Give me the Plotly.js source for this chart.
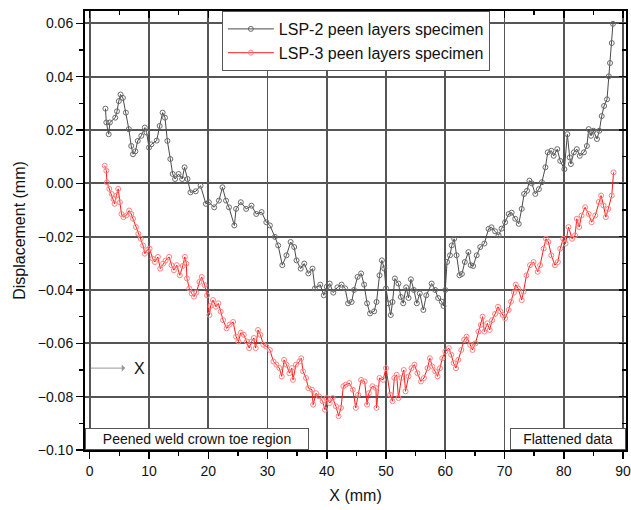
<!DOCTYPE html>
<html>
<head>
<meta charset="utf-8">
<script src="https://cdn.plot.ly/plotly-3.0.1.min.js"></script>
<style>html,body{margin:0;padding:0;background:#fff;}#chart{width:631px;height:510px;}</style>
</head>
<body>
<div id="chart"></div>
<script>
// LSP-2 peen layers specimen
const lsp2X = [2.65,2.8,3.2,3.4,4.3,4.6,4.9,5.2,5.6,6.1,6.6,7.0,7.3,7.7,8.1,8.7,9.3,9.6,10.0,10.4,11.3,11.8,12.3,12.7,13.1,13.6,14.0,14.4,15.0,15.6,16.0,16.5,17.0,17.9,18.7,19.6,20.1,21.0,21.8,22.4,23.0,23.5,24.4,24.7,25.5,26.4,27.3,28.1,29.0,29.8,30.4,31.25,31.8,32.5,33.2,33.9,34.5,34.9,35.6,36.2,36.9,37.6,38.0,38.9,39.5,40.0,40.5,41.1,41.8,42.5,43.1,43.6,44.2,44.6,45.2,45.8,46.3,46.8,47.3,48.0,48.4,48.9,49.3,49.7,50.0,50.4,50.8,51.1,51.5,52.1,52.5,52.9,53.4,53.8,54.2,54.7,55.2,55.7,56.3,56.8,57.7,58.3,58.8,59.4,59.7,60.0,60.3,60.8,61.1,61.5,61.9,62.4,62.8,63.3,63.9,64.3,64.7,65.3,65.9,66.6,67.3,67.8,68.4,69.0,69.5,70.1,70.7,71.2,71.8,72.4,72.9,73.3,73.8,74.2,74.6,75.2,75.8,76.3,76.9,77.3,77.9,78.3,78.9,79.4,80.1,80.6,81.0,81.2,81.7,82.2,82.7,83.4,83.9,84.2,84.6,85.0,85.6,86.0,86.4,86.8,87.3,87.6,87.8,88.1,88.3];
const lsp2Y = [0.028,0.0228,0.0184,0.0228,0.0246,0.027,0.0308,0.0333,0.032,0.0265,0.0203,0.014,0.0109,0.012,0.0159,0.0178,0.0209,0.019,0.0134,0.0146,0.016,0.0215,0.0265,0.0246,0.0159,0.0091,0.0035,0.0016,0.0035,0.0016,0.006,0.0016,-0.0034,-0.003,-0.0009,-0.0077,-0.0071,-0.009,-0.0065,-0.0015,-0.0065,-0.009,-0.0158,-0.0096,-0.0071,-0.0096,-0.0084,-0.0115,-0.0108,-0.0146,-0.0158,-0.0201,-0.0233,-0.0307,-0.027,-0.022,-0.0239,-0.0289,-0.032,-0.0301,-0.0338,-0.032,-0.0394,-0.038,-0.042,-0.0388,-0.0376,-0.041,-0.039,-0.038,-0.0394,-0.045,-0.0445,-0.040,-0.0351,-0.0338,-0.038,-0.045,-0.0488,-0.048,-0.0445,-0.0345,-0.0289,-0.032,-0.0394,-0.045,-0.0494,-0.0445,-0.0357,-0.0376,-0.0426,-0.045,-0.039,-0.043,-0.036,-0.040,-0.045,-0.0413,-0.0475,-0.042,-0.0376,-0.040,-0.043,-0.0444,-0.046,-0.040,-0.0295,-0.027,-0.0233,-0.0208,-0.027,-0.0345,-0.034,-0.0295,-0.0258,-0.0307,-0.031,-0.027,-0.0239,-0.0226,-0.0171,-0.0165,-0.018,-0.0195,-0.017,-0.0146,-0.0115,-0.011,-0.0133,-0.0152,-0.0096,-0.004,-0.0028,0.001,0.0,-0.004,-0.0022,0.0004,0.006,0.0116,0.0122,0.0103,0.0128,0.0084,0.0053,0.0184,0.0097,0.0072,0.0116,0.0128,0.0103,0.0116,0.014,0.0203,0.0178,0.0197,0.0166,0.0197,0.0252,0.029,0.0315,0.0401,0.0451,0.0526,0.0598];

// LSP-3 peen layers specimen
const lsp3X = [2.53,2.8,2.9,3.3,3.7,4.0,4.2,4.5,4.8,5.1,5.35,5.7,6.2,6.65,7.0,7.3,7.8,8.2,8.6,9.0,9.3,9.7,10.1,10.6,11.0,11.5,11.9,12.4,12.8,13.4,13.8,14.2,14.7,15.2,15.7,16.05,16.3,16.4,16.8,17.2,17.6,18.0,18.5,18.9,19.4,19.8,20.2,20.4,20.8,21.3,21.7,22.1,22.5,23.1,23.6,24.2,24.7,25.1,25.5,26.0,26.5,26.9,27.3,27.7,28.0,28.4,28.8,29.3,29.8,30.4,31.0,31.5,32.0,32.4,32.8,33.2,33.7,34.1,34.3,34.8,35.4,35.7,36.0,36.5,36.9,37.5,37.7,38.2,38.7,39.3,39.7,40.0,40.5,41.0,41.55,42.0,42.4,42.8,43.2,43.8,44.4,44.9,45.3,45.8,46.4,46.8,47.1,47.7,48.3,48.4,48.9,49.5,50.0,50.7,51.1,51.4,51.8,52.1,52.6,53.0,53.3,53.8,54.3,54.8,55.3,55.9,56.4,57.0,57.4,57.8,58.3,58.7,59.1,59.5,60.0,60.6,61.0,61.4,61.8,62.2,62.7,63.2,63.6,64.2,64.6,65.1,65.6,66.0,66.3,66.6,67.1,67.5,67.9,68.4,68.9,69.3,69.7,70.1,70.7,71.1,71.6,71.9,72.3,72.9,73.2,73.7,74.3,74.9,75.6,76.0,76.6,77.0,77.4,77.9,78.5,79.0,79.4,79.9,80.3,80.8,81.4,81.9,82.2,82.6,83.0,83.6,84.2,84.7,85.3,85.9,86.3,86.7,87.1,87.5,88.1,88.4];
const lsp3Y = [0.0066,0.0047,0.0004,-0.0021,-0.004,-0.0059,-0.0077,-0.0046,-0.0021,-0.0071,-0.0115,-0.0127,-0.012,-0.0102,-0.0115,-0.0133,-0.0164,-0.0189,-0.0208,-0.0233,-0.0264,-0.025,-0.0245,-0.0282,-0.0295,-0.0276,-0.032,-0.0301,-0.029,-0.0276,-0.0307,-0.0326,-0.0307,-0.0345,-0.031,-0.0276,-0.0301,-0.0357,-0.0394,-0.0413,-0.0425,-0.041,-0.037,-0.0351,-0.0382,-0.042,-0.0494,-0.046,-0.0438,-0.0463,-0.045,-0.0481,-0.0513,-0.0544,-0.053,-0.052,-0.0575,-0.0593,-0.056,-0.0568,-0.0593,-0.0618,-0.0593,-0.058,-0.0618,-0.055,-0.0568,-0.0605,-0.0612,-0.0625,-0.0668,-0.068,-0.0693,-0.0724,-0.0662,-0.068,-0.0712,-0.0693,-0.0737,-0.068,-0.0668,-0.0656,-0.0705,-0.073,-0.0768,-0.0774,-0.083,-0.0787,-0.0799,-0.0817,-0.0849,-0.0805,-0.0824,-0.0805,-0.0836,-0.0873,-0.0842,-0.0761,-0.0755,-0.0749,-0.0774,-0.0842,-0.0793,-0.0737,-0.0743,-0.083,-0.0787,-0.0761,-0.0768,-0.0842,-0.073,-0.0737,-0.0693,-0.0793,-0.0817,-0.073,-0.0718,-0.0805,-0.073,-0.07,-0.078,-0.0724,-0.0693,-0.068,-0.0712,-0.0743,-0.073,-0.0693,-0.0656,-0.0687,-0.0705,-0.0724,-0.0693,-0.0656,-0.0631,-0.0618,-0.0643,-0.0674,-0.0693,-0.0662,-0.0625,-0.0587,-0.0575,-0.0606,-0.0625,-0.06,-0.0556,-0.0531,-0.05,-0.0556,-0.0525,-0.055,-0.0513,-0.049,-0.0463,-0.048,-0.0494,-0.0506,-0.0475,-0.0444,-0.041,-0.038,-0.0395,-0.0438,-0.0407,-0.0345,-0.0307,-0.0295,-0.0332,-0.0307,-0.0245,-0.0208,-0.022,-0.027,-0.0307,-0.0295,-0.0245,-0.0208,-0.0226,-0.0164,-0.0208,-0.0195,-0.0133,-0.0164,-0.0121,-0.009,-0.0115,-0.0146,-0.0121,-0.007,-0.0046,-0.0083,-0.0127,-0.0096,-0.0046,0.0041];

const seriesNames = ['LSP-2 peen layers specimen', 'LSP-3 peen layers specimen'];
const xTicks = [0,10,20,30,40,50,60,70,80,90];
const yTicks = [-0.10,-0.08,-0.06,-0.04,-0.02,0.00,0.02,0.04,0.06];

const FONT = 'Liberation Sans, Arial, sans-serif';
const xRange = [-0.8, 90.5];
const yRange = [-0.10, 0.0646];

const traces = [
  {
    x: lsp2X, y: lsp2Y, name: seriesNames[0], type: 'scatter', mode: 'lines+markers',
    line: {color: '#4a4a4a', width: 1},
    marker: {symbol: 'circle-open', size: 5, color: '#6a6a6a', line: {width: 1}}
  },
  {
    x: lsp3X, y: lsp3Y, name: seriesNames[1], type: 'scatter', mode: 'lines+markers',
    line: {color: '#ff1a1a', width: 1},
    marker: {symbol: 'circle-open', size: 5, color: '#ff8080', line: {width: 1}}
  },
  {x: [], y: [], xaxis: 'x2', yaxis: 'y2', showlegend: false, hoverinfo: 'skip', type: 'scatter'}
];

const layout = {
  width: 631, height: 510,
  margin: {l: 85, r: 5, t: 11, b: 60},
  paper_bgcolor: '#fff', plot_bgcolor: '#fff',
  font: {family: FONT, color: '#111'},
  showlegend: true,
  legend: {
    x: 0.253, y: 1, xanchor: 'left', yanchor: 'top',
    bgcolor: '#fff', bordercolor: '#555', borderwidth: 1,
    font: {family: FONT, size: 16, color: '#111'},
    tracegroupgap: 0, itemwidth: 46
  },
  xaxis: {
    range: xRange, tickvals: xTicks, ticks: 'outside', ticklen: 7, tickwidth: 1.5, tickcolor: '#000',
    showline: true, linecolor: '#000', linewidth: 2, mirror: true,
    showgrid: true, gridcolor: '#555', gridwidth: 1.8, zeroline: false,
    ticklabeloverflow: 'allow',
    tickfont: {family: FONT, size: 14, color: '#111'},
    minor: {dtick: 5, tick0: 0, ticks: 'outside', ticklen: 4, tickcolor: '#000', showgrid: false},
    title: {text: 'X (mm)', font: {family: FONT, size: 16, color: '#111'}, standoff: 12}
  },
  yaxis: {
    range: yRange, tickvals: yTicks, tickformat: '.2f', ticks: 'outside', ticklen: 7, tickwidth: 1.5, tickcolor: '#000',
    showline: true, linecolor: '#000', linewidth: 2, mirror: true,
    showgrid: true, gridcolor: '#555', gridwidth: 1.8, zeroline: false,
    tickfont: {family: FONT, size: 14, color: '#111'},
    minor: {dtick: 0.01, tick0: 0, ticks: 'outside', ticklen: 4, tickcolor: '#000', showgrid: false},
    title: {text: 'Displacement (mm)', font: {family: FONT, size: 16, color: '#111'}, standoff: 8}
  },
  xaxis2: {
    overlaying: 'x', side: 'top', anchor: 'y2', range: xRange, tickvals: xTicks,
    ticks: 'inside', ticklen: 7, tickwidth: 1.5, tickcolor: '#000', showticklabels: false,
    showgrid: false, zeroline: false, showline: false,
    minor: {dtick: 5, tick0: 0, ticks: 'inside', ticklen: 4, tickcolor: '#000', showgrid: false}
  },
  yaxis2: {
    overlaying: 'y', side: 'right', anchor: 'x2', range: yRange, tickvals: yTicks,
    ticks: 'inside', ticklen: 7, tickwidth: 1.5, tickcolor: '#000', showticklabels: false,
    showgrid: false, zeroline: false, showline: false,
    minor: {dtick: 0.01, tick0: 0, ticks: 'inside', ticklen: 4, tickcolor: '#000', showgrid: false}
  },
  annotations: [
    {
      xref: 'paper', yref: 'paper', x: 0, y: 0, xanchor: 'left', yanchor: 'bottom',
      text: 'Peened weld crown toe region', showarrow: false,
      font: {family: FONT, size: 14, color: '#111'},
      bgcolor: '#fff', bordercolor: '#555', borderwidth: 1, borderpad: 2, width: 218, height: 16
    },
    {
      xref: 'paper', yref: 'paper', x: 1, y: 0, xanchor: 'right', yanchor: 'bottom',
      text: 'Flattened data', showarrow: false,
      font: {family: FONT, size: 14, color: '#111'},
      bgcolor: '#fff', bordercolor: '#555', borderwidth: 1, borderpad: 2, width: 110, height: 16
    },
    {
      xref: 'x', yref: 'y', x: 6.0, y: -0.0693, ax: -36, ay: 0, axref: 'pixel', ayref: 'pixel',
      text: '', showarrow: true, arrowhead: 1, arrowsize: 1.2, arrowwidth: 1, arrowcolor: '#999'
    },
    {
      xref: 'x', yref: 'y', x: 8.4, y: -0.0693, xanchor: 'center', yanchor: 'middle',
      text: 'X', showarrow: false, font: {family: FONT, size: 16, color: '#111'}
    }
  ]
};

Plotly.newPlot('chart', traces, layout, {displayModeBar: false, staticPlot: true});
</script>
</body>
</html>
